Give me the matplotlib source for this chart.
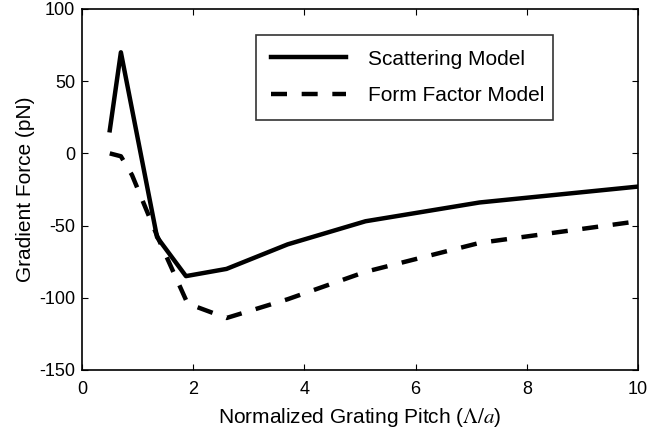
import matplotlib
matplotlib.use("Agg")
import matplotlib.pyplot as plt

plt.rcParams['font.family'] = ['Liberation Sans', 'DejaVu Sans']
plt.rcParams['axes.unicode_minus'] = False
plt.rcParams['mathtext.fontset'] = 'stix'

x_scatter = [0.5, 0.7, 1.35, 1.87, 2.6, 3.7, 5.1, 7.15, 10.0]
y_scatter = [16, 70, -58, -85, -80, -63, -47, -34, -23]

x_form = [0.5, 0.7, 0.9, 1.35, 1.9, 2.6, 3.7, 5.1, 7.15, 10.0]
y_form = [0, -2, -15, -57, -104, -114, -101, -82, -62, -47]

xlim = (0, 10)
ylim = (-150, 100)
xticks = [0, 2, 4, 6, 8, 10]
yticks = [-150, -100, -50, 0, 50, 100]

fig = plt.figure(figsize=(6.48, 4.34), dpi=100)
ax = fig.add_axes([0.1265, 0.1475, 0.858, 0.8318])
ax.plot(x_scatter, y_scatter, color='black', lw=3.2, label='Scattering Model')
ax.plot(x_form, y_form, color='black', lw=3.2, ls=(0, (3.6, 3.3)), label='Form Factor Model')
ax.set_xlim(*xlim)
ax.set_ylim(*ylim)
ax.set_xticks(xticks)
ax.set_yticks(yticks)
ax.tick_params(direction='in', top=True, right=True, labelsize=13, length=4, width=0.8)
ax.tick_params(axis='x', pad=8)
ax.tick_params(axis='y', pad=5)
for s in ax.spines.values():
    s.set_linewidth(1.2)
ax.set_xlabel(r'Normalized Grating Pitch ($\Lambda/a$)', fontsize=15, labelpad=6)
ax.set_ylabel('Gradient Force (pN)', fontsize=15, labelpad=3)
leg = ax.legend(loc='center', bbox_to_anchor=(0.313, 0.695, 0.534, 0.23), mode='expand',
                borderaxespad=0, fontsize=15, frameon=True, fancybox=False, edgecolor='black',
                handlelength=3.6, borderpad=0.7, labelspacing=0.85, handletextpad=1.1)
leg.get_frame().set_linewidth(1.2)
fig.savefig('out.png', dpi=100)
